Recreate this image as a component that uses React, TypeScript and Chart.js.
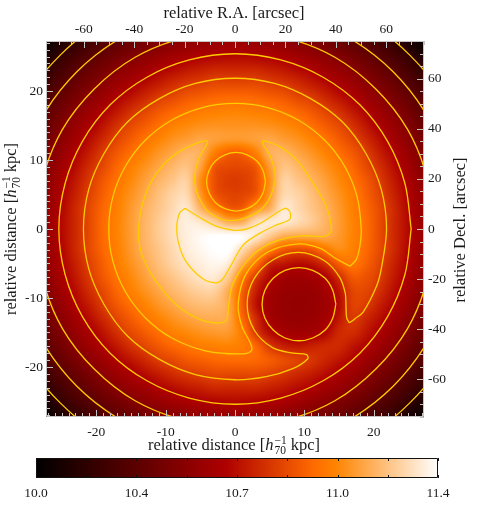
import React, { useEffect, useRef } from "react";
import { Chart, registerables } from "chart.js";
Chart.register(...registerables);

const FONT = '"Liberation Serif", "Times New Roman", serif';

// Surface mass map: log10(M) - 10, in hundredths, nodes every 2 kpc.
const gridX = [-27,-25,-23,-21,-19,-17,-15,-13,-11,-9,-7,-5,-3,-1,1,3,5,7,9,11,13,15,17,19,21,23,25,27];
const gridY = [27,25,23,21,19,17,15,13,11,9,7,5,3,1,-1,-3,-5,-7,-9,-11,-13,-15,-17,-19,-21,-23,-25,-27];
const massRows = [
[4,10,16,22,28,33,37,41,45,48,51,53,54,55,55,54,53,51,48,45,41,37,33,28,22,16,10,4],
[10,17,23,29,35,40,45,49,53,57,60,62,63,64,64,63,62,60,57,53,49,45,40,35,29,23,17,10],
[16,23,30,36,42,48,53,57,62,65,68,70,72,72,72,72,70,68,65,62,57,53,48,42,36,30,23,16],
[22,29,36,42,49,55,60,65,69,73,76,78,80,80,80,80,78,76,73,69,65,60,55,49,42,36,29,22],
[28,35,42,49,55,62,67,72,77,80,84,86,88,89,89,88,86,84,80,77,72,67,62,55,49,42,35,28],
[33,40,48,55,62,68,74,79,84,88,91,94,95,96,96,95,94,91,88,84,79,74,68,62,55,48,40,33],
[37,45,53,60,67,74,80,85,90,95,98,100,101,101,101,101,100,98,95,90,85,80,74,67,60,53,45,37],
[41,49,57,65,72,79,85,91,96,101,104,107,105,103,103,105,107,104,101,96,91,85,79,72,65,57,49,41],
[45,53,62,69,77,84,90,96,102,107,112,110,95,86,86,95,110,112,107,102,96,90,84,77,69,62,53,45],
[48,57,65,73,80,88,95,101,107,113,117,106,84,80,80,84,104,117,113,107,101,95,88,80,73,65,57,48],
[51,60,68,76,84,91,98,105,112,118,122,100,82,77,77,82,100,122,118,112,105,98,91,84,76,68,60,51],
[53,62,70,78,86,94,101,108,116,123,125,103,84,79,79,84,103,124,123,116,108,101,94,86,78,70,62,53],
[54,63,72,80,88,95,103,111,118,125,130,112,96,85,85,100,110,130,125,118,111,103,95,88,80,72,63,54],
[55,64,72,80,89,96,104,112,120,127,133,130,122,110,110,126,131,131,126,120,112,104,96,89,80,72,64,55],
[55,64,72,80,89,96,104,112,120,127,133,137,139,140,138,131,120,110,108,108,108,103,96,89,80,72,64,55],
[54,63,72,80,88,95,103,111,118,125,132,136,139,140,126,110,95,84,81,83,92,99,95,88,80,72,63,54],
[53,62,70,78,86,94,101,108,116,123,129,133,136,132,110,92,72,68,65,67,74,86,92,86,78,70,62,53],
[51,60,68,76,84,91,98,105,112,118,124,129,131,120,94,76,64,58,56,58,62,73,84,82,76,68,60,51],
[48,57,65,73,80,88,95,101,107,113,118,122,122,109,87,70,59,54,53,53,58,67,79,79,73,65,57,48],
[45,53,62,69,77,84,90,96,102,107,112,115,115,108,86,67,57,53,52,53,56,65,78,76,69,62,53,45],
[41,49,57,65,72,79,85,91,96,101,105,108,109,107,89,73,59,54,53,54,58,68,76,71,65,57,49,41],
[37,45,53,60,67,74,80,85,90,95,98,101,103,103,94,76,65,59,57,58,63,72,73,67,60,53,45,37],
[33,40,48,55,62,68,74,79,84,88,91,94,95,96,94,88,76,70,68,70,72,72,67,62,55,48,40,33],
[28,35,42,49,55,62,67,72,77,80,84,86,88,89,89,88,85,81,78,75,71,67,62,55,49,42,35,28],
[22,29,36,42,49,55,60,65,69,73,76,78,80,80,80,80,78,75,72,69,65,60,55,49,42,36,29,22],
[16,23,30,36,42,48,53,57,62,65,68,70,72,72,72,72,70,68,65,62,57,53,48,42,36,30,23,16],
[10,17,23,29,35,40,45,49,53,57,60,62,63,64,64,63,62,60,57,53,49,45,40,35,29,23,17,10],
[4,10,16,22,28,33,37,41,45,48,51,53,54,55,55,54,53,51,48,45,41,37,33,28,22,16,10,4],
];
// Table value -> value shown, read against the colour bar: [table, adjusted]
const levelCalibration = [[0,0],[20,24],[45,49],[65,69],[80,87],[92,100],[108,115],[130,133],[142,142]];

// Contour lines, [x, y] in kpc.
const ring357 = [[35.7,0],[34.5,9.2],[30.9,17.9],[25.2,25.2],[17.9,30.9],[9.2,34.5],[0,35.7],[-9.2,34.5],[-17.9,30.9],[-25.2,25.2],[-30.9,17.9],[-34.5,9.2],[-35.7,0],[-34.5,-9.2],[-30.9,-17.9],[-25.2,-25.2],[-17.9,-30.9],[-9.2,-34.5],[0,-35.7],[9.2,-34.5],[17.9,-30.9],[25.2,-25.2],[30.9,-17.9],[34.5,-9.2]];
const ring322 = [[32.2,0],[31.1,8.3],[27.9,16.1],[22.8,22.8],[16.1,27.9],[8.3,31.1],[0,32.2],[-8.3,31.1],[-16.1,27.9],[-22.8,22.8],[-27.9,16.1],[-31.1,8.3],[-32.2,0],[-31.1,-8.3],[-27.9,-16.1],[-22.8,-22.8],[-16.1,-27.9],[-8.3,-31.1],[0,-32.2],[8.3,-31.1],[16.1,-27.9],[22.8,-22.8],[27.9,-16.1],[31.1,-8.3]];
const ring287 = [[28.7,0],[27.7,7.4],[24.9,14.4],[20.3,20.3],[14.4,24.9],[7.4,27.7],[0,28.7],[-7.4,27.7],[-14.4,24.9],[-20.3,20.3],[-24.9,14.4],[-27.7,7.4],[-28.7,0],[-27.7,-7.4],[-24.9,-14.4],[-20.3,-20.3],[-14.4,-24.9],[-7.4,-27.7],[0,-28.7],[7.4,-27.7],[14.4,-24.9],[20.3,-20.3],[24.9,-14.4],[27.7,-7.4]];
const ring254 = [[25.4,0],[24.5,6.6],[22,12.7],[18,18],[12.7,22],[6.6,24.5],[0,25.4],[-6.6,24.5],[-12.7,22],[-18,18],[-22,12.7],[-24.5,6.6],[-25.4,0],[-24.5,-6.6],[-22,-12.7],[-18,-18],[-12.7,-22],[-6.6,-24.5],[0,-25.4],[6.6,-24.5],[12.7,-22],[18,-18],[22,-12.7],[24.5,-6.6]];
const armY = [[16.5,-13.6],[16.1,-12.9],[16,-11],[15.9,-9.3],[15.1,-7],[12.9,-4.6],[9.2,-3.4],[5.5,-4.45],[2.75,-7.2],[1.75,-10.9],[2.75,-14.6],[5.4,-17.2],[8.4,-18],[10.3,-18.2],[10.5,-18.8],[8.4,-20.2],[4.5,-21.4],[0,-21.85],[-5.7,-21.1],[-10.9,-18.9],[-15.5,-15.5],[-18.9,-10.9],[-21.1,-5.7],[-21.85,0],[-21.1,5.7],[-18.9,10.9],[-15.5,15.5],[-10.9,18.9],[-5.7,21.1],[0,21.85],[5.7,21.1],[10.9,18.9],[15.5,15.5],[18.9,10.9],[21.1,5.7],[21.85,0],[21.1,-5.7],[20.4,-8.3],[18.5,-12],[17.3,-13]];
const armX = [[16.6,-5.4],[14.4,-4.2],[12.3,-2.8],[9.2,-2.15],[4.8,-3.3],[1.6,-6.5],[0.45,-10.9],[1,-14.1],[2.2,-16.5],[2.4,-17.6],[1.2,-18.1],[-4.1,-17.7],[-9.1,-15.8],[-12.9,-12.9],[-15.8,-9.1],[-17.6,-4.7],[-18.2,0],[-17.6,4.7],[-15.8,9.1],[-12.9,12.9],[-9.1,15.8],[-4.7,17.6],[0,18.2],[4.7,17.6],[9.1,15.8],[12.9,12.9],[15.8,9.1],[17.6,4.7],[18.2,0],[18,-2.5],[17.5,-4.4]];
const armT = [[-4,12.8],[-5.1,12.6],[-8.4,11],[-11.3,8.1],[-13,4.7],[-13.9,0.3],[-13.5,-3.5],[-11.5,-7.4],[-8.2,-11.2],[-4.8,-13.2],[-2.2,-13.6],[-1.2,-13.2],[-0.9,-10.9],[-0.4,-8.2],[0.8,-5.9],[1.7,-4.7],[3.1,-3.3],[5.5,-1.9],[9.4,-1],[12.7,-1.1],[13.7,-0.6],[13.9,0.3],[13.2,3.2],[11.3,6.6],[8.9,10],[6.5,11.9],[4.1,12.8],[4,12.4],[5.1,10.5],[5.8,7.6],[5.1,4.7],[3.6,2.7],[1.2,1.5],[-0.7,1.2],[-2.2,1.5],[-4.3,3],[-5.8,6.6],[-5.3,10],[-4,12.4]];
const whiteCore = [[-7.2,3],[-4.8,1.5],[-2.4,0.3],[0,-0.2],[1.7,0],[3.6,0.8],[5.5,2],[7.2,3],[7.9,2.5],[7.9,1.4],[6,0.6],[3.6,-0.6],[1.2,-2.3],[-0.7,-5.5],[-1.9,-7.4],[-2.9,-7.8],[-4.8,-7.1],[-7.2,-4.5],[-8.2,-1.8],[-8.4,0.3],[-8,2.3]];
const discNorth = [[4.4,6.85],[4.05,8.45],[3.15,9.85],[1.75,10.75],[0.15,11.1],[-1.45,10.75],[-2.85,9.85],[-3.75,8.45],[-4.1,6.85],[-3.75,5.25],[-2.85,3.85],[-1.45,2.95],[0.15,2.6],[1.75,2.95],[3.15,3.85],[4.05,5.25]];
const discSouth = [[14.54,-10.9],[14.1,-8.9],[13,-7.15],[11.2,-6],[9.24,-5.6],[7.2,-6],[5.5,-7.15],[4.3,-8.9],[3.9,-10.9],[4.3,-12.9],[5.5,-14.65],[7.2,-15.8],[9.24,-16.2],[11.2,-15.8],[13,-14.65],[14.1,-12.9]];
const contourLines = [ring357, ring322, ring287, ring254, armY, armX, armT, whiteCore, discNorth, discSouth];

const kpcTicksX = [-20, -10, 0, 10, 20];
const kpcTicksY = [-20, -10, 0, 10, 20];
const arcsecTicks = [-60, -40, -20, 0, 20, 40, 60];
const barTicks = [10, 10.175, 10.35, 10.525, 10.7, 10.875, 11.05, 11.225, 11.4];
const barLabels = ["10.0", "", "10.4", "", "10.7", "", "11.0", "", "11.4"];
const barRange = [10, 11.4];

// Red-temperature table: [position, r, g, b]
const colorStops = [[0,0,0,0],[0.471,174,0,0],[0.69,255,106,0],[0.745,255,132,0],[1,255,255,255]];

function colorAt(t: number) {
  const v = Math.max(0, Math.min(1, t));
  for (let i = 1; i < colorStops.length; i++) {
    const a = colorStops[i - 1], b = colorStops[i];
    if (v <= b[0]) {
      const f = (v - a[0]) / (b[0] - a[0]);
      return [a[1] + (b[1] - a[1]) * f, a[2] + (b[2] - a[2]) * f, a[3] + (b[3] - a[3]) * f];
    }
  }
  return [255, 255, 255];
}

function calibrate(v: number) {
  for (let i = 1; i < levelCalibration.length; i++) {
    const a = levelCalibration[i - 1], b = levelCalibration[i];
    if (v <= b[0]) return a[1] + ((b[1] - a[1]) * (v - a[0])) / (b[0] - a[0]);
  }
  return v;
}

const cr = (a: number, b: number, c: number, d: number, t: number) =>
  b + 0.5 * t * (c - a + t * (2 * a - 5 * b + 4 * c - d + t * (3 * (b - c) + d - a)));

function sample(u: number, v: number) {
  const n = gridX.length, m = gridY.length;
  const i = Math.floor(u), j = Math.floor(v);
  const tu = u - i, tv = v - j;
  const row = (k: number) => massRows[Math.max(0, Math.min(m - 1, k))];
  const at = (r: number[], k: number) => r[Math.max(0, Math.min(n - 1, k))];
  const line = (r: number[]) => cr(at(r, i - 1), at(r, i), at(r, i + 1), at(r, i + 2), tu);
  return cr(line(row(j - 1)), line(row(j)), line(row(j + 1)), line(row(j + 2)), tv);
}

const heatPlugin = {
  id: "heat",
  beforeDatasetsDraw(chart: any) {
    const { ctx, chartArea: a, scales } = chart;
    const w = Math.round(a.right - a.left), h = Math.round(a.bottom - a.top);
    const off = document.createElement("canvas");
    off.width = w; off.height = h;
    const oc = off.getContext("2d")!;
    const img = oc.createImageData(w, h);
    const x0 = gridX[0], dx = gridX[1] - gridX[0];
    const y0 = gridY[0], dy = gridY[1] - gridY[0];
    for (let py = 0; py < h; py++) {
      const v = (scales.y.getValueForPixel(a.top + py + 0.5) - y0) / dy;
      for (let px = 0; px < w; px++) {
        const u = (scales.x.getValueForPixel(a.left + px + 0.5) - x0) / dx;
        const val = calibrate(sample(u, v)) / 100 + barRange[0];
        const c = colorAt((val - barRange[0]) / (barRange[1] - barRange[0]));
        const o = (py * w + px) * 4;
        img.data[o] = c[0]; img.data[o + 1] = c[1]; img.data[o + 2] = c[2]; img.data[o + 3] = 255;
      }
    }
    oc.putImageData(img, 0, 0);
    ctx.drawImage(off, a.left, a.top);
  },
};

function drawMathTitle(ctx: any, cx: number, cy: number, angle: number) {
  const main = `16.5px ${FONT}`, ital = `italic 16.5px ${FONT}`, small = `11.5px ${FONT}`;
  const a = "relative distance [", b = "h", c = " kpc]", sup = "\u22121", sub = "70";
  ctx.save();
  ctx.translate(cx, cy);
  ctx.rotate(angle);
  ctx.fillStyle = "#1a1a1a";
  ctx.textBaseline = "alphabetic";
  ctx.textAlign = "left";
  ctx.font = main; const wa = ctx.measureText(a).width, wc = ctx.measureText(c).width;
  ctx.font = ital; const wb = ctx.measureText(b).width;
  ctx.font = small; const ws = Math.max(ctx.measureText(sup).width, ctx.measureText(sub).width);
  let x = -(wa + wb + ws + wc + 1) / 2;
  ctx.font = main; ctx.fillText(a, x, 0); x += wa;
  ctx.font = ital; ctx.fillText(b, x, 0); x += wb + 1;
  ctx.font = small; ctx.fillText(sup, x, -6); ctx.fillText(sub, x, 4); x += ws;
  ctx.font = main; ctx.fillText(c, x, 0);
  ctx.restore();
}

function drawPlainTitle(ctx: any, text: string, cx: number, cy: number, angle: number) {
  ctx.save();
  ctx.translate(cx, cy);
  ctx.rotate(angle);
  ctx.fillStyle = "#1a1a1a";
  ctx.font = `16.5px ${FONT}`;
  ctx.textAlign = "center";
  ctx.textBaseline = "alphabetic";
  ctx.fillText(text, 0, 0);
  ctx.restore();
}

const framePlugin = {
  id: "frame",
  afterDatasetsDraw(chart: any) {
    const { ctx, chartArea: a, scales } = chart;
    ctx.save();
    ctx.strokeStyle = "#c4c4c4";
    ctx.lineWidth = 1;
    ctx.beginPath();
    const tickX = (s: any, from: number, to: number, step: number, major: number, y: number, dir: number) => {
      const n = Math.round((to - from) / step);
      for (let i = 0; i <= n; i++) {
        const v = from + i * step;
        const p = Math.round(s.getPixelForValue(v)) + 0.5;
        const len = Math.abs(v / major - Math.round(v / major)) < 1e-6 ? 7 : 4;
        ctx.moveTo(p, y); ctx.lineTo(p, y + dir * len);
      }
    };
    const tickY = (s: any, from: number, to: number, step: number, major: number, x: number, dir: number) => {
      const n = Math.round((to - from) / step);
      for (let i = 0; i <= n; i++) {
        const v = from + i * step;
        const p = Math.round(s.getPixelForValue(v)) + 0.5;
        const len = Math.abs(v / major - Math.round(v / major)) < 1e-6 ? 7 : 4;
        ctx.moveTo(x, p); ctx.lineTo(x + dir * len, p);
      }
    };
    tickX(scales.x, -27, 27, 1, 10, a.bottom, -1);
    tickX(scales.xTop, -75, 75, 5, 20, a.top, 1);
    tickY(scales.y, -27, 27, 1, 10, a.left, 1);
    tickY(scales.yRight, -75, 75, 5, 20, a.right, -1);
    ctx.rect(a.left + 0.5, a.top + 0.5, a.right - a.left - 1, a.bottom - a.top - 1);
    ctx.stroke();
    ctx.restore();
    drawPlainTitle(ctx, "relative R.A. [arcsec]", 234, 18, 0);
    drawPlainTitle(ctx, "relative Decl. [arcsec]", 465, 230, -Math.PI / 2);
    drawMathTitle(ctx, 234, 450, 0);
    drawMathTitle(ctx, 16, 229, -Math.PI / 2);
  },
};

const barPlugin = {
  id: "barFrame",
  afterDatasetsDraw(chart: any) {
    const { ctx, chartArea: a, scales } = chart;
    ctx.save();
    ctx.strokeStyle = "#111";
    ctx.lineWidth = 1;
    ctx.beginPath();
    ctx.rect(a.left + 0.5, a.top + 0.5, a.right - a.left - 1, a.bottom - a.top - 1);
    barTicks.forEach((v) => {
      const p = Math.round(scales.x.getPixelForValue(v)) + 0.5;
      ctx.moveTo(p, a.top); ctx.lineTo(p, a.top + 3);
      ctx.moveTo(p, a.bottom); ctx.lineTo(p, a.bottom - 3);
    });
    ctx.stroke();
    ctx.restore();
  },
};

const fixedSize = (size: number) => (s: any) => {
  if (s.isHorizontal()) s.height = size; else s.width = size;
};
const tickFont = { family: FONT, size: 13.5 };
const setTicks = (list: number[]) => (s: any) => { s.ticks = list.map((value) => ({ value })); };

export default function App() {
  const mainRef = useRef<HTMLCanvasElement>(null);
  const barRef = useRef<HTMLCanvasElement>(null);

  useEffect(() => {
    document.body.style.margin = "0";
    document.body.style.overflow = "hidden";
    const axis = (extra: any) => ({
      type: "linear",
      grid: { display: false, drawTicks: false },
      border: { display: false },
      ...extra,
    });
    const labelTicks = (padding: number) => ({
      font: tickFont, color: "#1a1a1a", padding, autoSkip: false, maxRotation: 0,
      callback: (v: number) => String(v),
    });
    const main = new Chart(mainRef.current!, {
      type: "line",
      data: {
        datasets: contourLines.map((pts) => ({
          data: [...pts, pts[0]].map(([x, y]) => ({ x, y })),
          pointRadius: 0,
          borderColor: "#ffcc00",
          borderWidth: 1.3,
          tension: 0.33,
          fill: false,
          xAxisID: "x",
          yAxisID: "y",
        })),
      },
      options: {
        animation: false,
        responsive: false,
        layout: { padding: 0 },
        plugins: { legend: { display: false }, tooltip: { enabled: false } },
        elements: { line: { capBezierPoints: false, tension: 0.33 } },
        scales: {
          x: axis({ position: "bottom", min: -27.25, max: 27.25, ticks: labelTicks(7), afterBuildTicks: setTicks(kpcTicksX), afterFit: fixedSize(41) }),
          xTop: axis({ position: "top", min: -75, max: 75, ticks: labelTicks(3), afterBuildTicks: setTicks(arcsecTicks), afterFit: fixedSize(41) }),
          y: axis({ position: "left", min: -27.25, max: 27.25, ticks: labelTicks(3), afterBuildTicks: setTicks(kpcTicksY), afterFit: fixedSize(46) }),
          yRight: axis({ position: "right", min: -75, max: 75, ticks: labelTicks(4), afterBuildTicks: setTicks(arcsecTicks), afterFit: fixedSize(53) }),
        },
      } as any,
      plugins: [heatPlugin, framePlugin],
    });

    const bar = new Chart(barRef.current!, {
      type: "bar",
      data: {
        labels: ["log mass"],
        datasets: [{
          data: [barRange as any],
          barPercentage: 1,
          categoryPercentage: 1,
          backgroundColor: (c: any) => {
            const a = c.chart.chartArea;
            if (!a) return "#000";
            const g = c.chart.ctx.createLinearGradient(a.left, 0, a.right, 0);
            colorStops.forEach((s) => g.addColorStop(s[0], `rgb(${s[1]},${s[2]},${s[3]})`));
            return g;
          },
        }],
      },
      options: {
        indexAxis: "y",
        animation: false,
        responsive: false,
        layout: { padding: { left: 36, right: 39, top: 8, bottom: 0 } },
        plugins: { legend: { display: false }, tooltip: { enabled: false } },
        scales: {
          x: {
            type: "linear", min: barRange[0], max: barRange[1],
            grid: { display: false, drawTicks: false }, border: { display: false },
            afterBuildTicks: setTicks(barTicks),
            afterFit: fixedSize(28),
            ticks: {
              font: tickFont, color: "#1a1a1a", padding: 7, autoSkip: false, maxRotation: 0,
              callback: (_v: number, i: number) => barLabels[i],
            },
          },
          y: { display: false },
        },
      } as any,
      plugins: [barPlugin],
    });
    return () => { main.destroy(); bar.destroy(); };
  }, []);

  return (
    <div style={{ position: "relative", width: 477, height: 506, background: "#fff" }}>
      <canvas ref={mainRef} width={477} height={458} style={{ position: "absolute", left: 0, top: 0 }} />
      <canvas ref={barRef} width={477} height={56} style={{ position: "absolute", left: 0, top: 450 }} />
    </div>
  );
}
